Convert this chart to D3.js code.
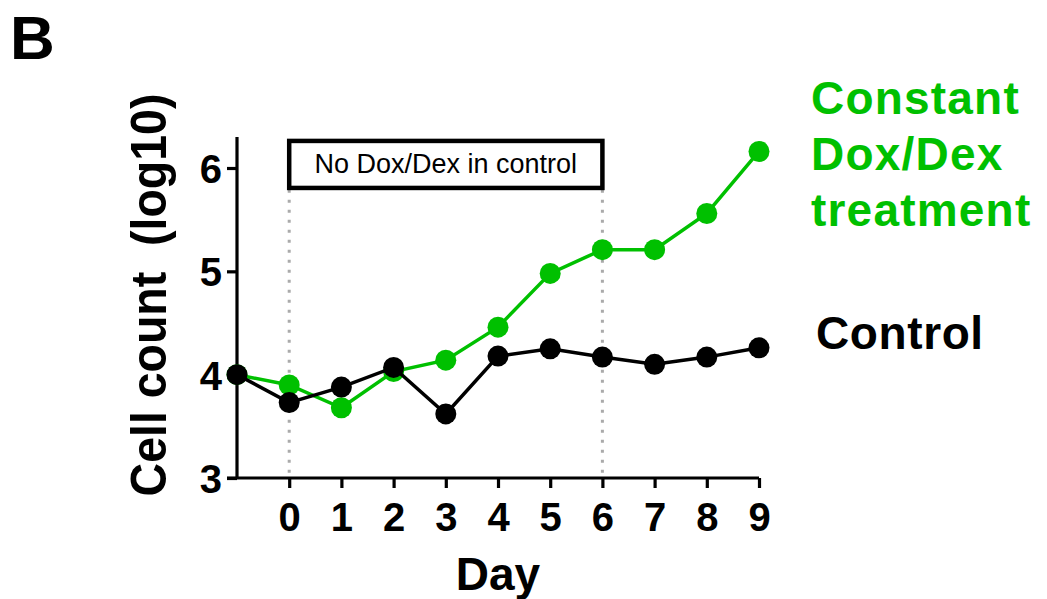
<!DOCTYPE html>
<html>
<head>
<meta charset="utf-8">
<script src="https://cdn.jsdelivr.net/npm/d3@7"></script>
<style>
  html, body { margin: 0; padding: 0; background: #fff; }
  svg { display: block; font-family: Arial, "Liberation Sans", Helvetica, sans-serif; }
</style>
</head>
<body>
<svg id="chart" width="1047" height="599"></svg>
<script>
// Days of measurement (-1 = baseline before day 0)
const days = [-1, 0, 1, 2, 3, 4, 5, 6, 7, 8, 9];
const xTicks = [0, 1, 2, 3, 4, 5, 6, 7, 8, 9];
const yTicks = [3, 4, 5, 6];

// log10 cell counts
const treatedValues = [4.00, 3.90, 3.68, 4.03, 4.14, 4.46, 4.98, 5.21, 5.21, 5.56, 6.16];
const controlValues = [4.00, 3.73, 3.88, 4.07, 3.62, 4.18, 4.25, 4.17, 4.10, 4.17, 4.26];

// Window without Dox/Dex in the control arm
const noDrugWindow = [0, 6];
const noDrugLabel = "No Dox/Dex in control";

const treatedName = ["Constant", "Dox/Dex", "treatment"];
const controlName = "Control";

const GREEN = "#00c000";
const BLACK = "#000000";

const svg = d3.select("#chart");

const x = d3.scaleLinear().domain([-1, 9]).range([237, 759]);
const y = d3.scaleLinear().domain([3, 6.3]).range([478, 137]);

// Panel letter
svg.append("text")
  .attr("x", 10).attr("y", 59)
  .attr("font-size", 62).attr("font-weight", "bold")
  .text("B");

// Dotted guide lines at the window edges
svg.selectAll("line.guide")
  .data(noDrugWindow)
  .join("line")
  .attr("class", "guide")
  .attr("x1", d => x(d)).attr("x2", d => x(d))
  .attr("y1", y(5.79)).attr("y2", y(3))
  .attr("stroke", "#aaaaaa")
  .attr("stroke-width", 3)
  .attr("stroke-dasharray", "3,7");

// Annotation box
const boxTop = y(6.262), boxBottom = y(5.807);
svg.append("rect")
  .attr("x", x(noDrugWindow[0])).attr("y", boxTop)
  .attr("width", x(noDrugWindow[1]) - x(noDrugWindow[0]))
  .attr("height", boxBottom - boxTop)
  .attr("fill", "#fff")
  .attr("stroke", "#000")
  .attr("stroke-width", 4.5);
svg.append("text")
  .attr("x", (x(noDrugWindow[0]) + x(noDrugWindow[1])) / 2)
  .attr("y", 173)
  .attr("text-anchor", "middle")
  .attr("font-size", 27)
  .text(noDrugLabel);

// Axes
const yAxis = d3.axisLeft(y).tickValues(yTicks).tickSize(10).tickPadding(6).tickFormat(d3.format("d"));
const xAxis = d3.axisBottom(x).tickValues(xTicks).tickSize(10).tickPadding(6).tickFormat(d3.format("d"));

const gy = svg.append("g").attr("transform", `translate(${x(-1)},0)`).call(yAxis);
const gx = svg.append("g").attr("transform", `translate(0,${y(3)})`).call(xAxis);

[gx, gy].forEach(g => {
  g.select(".domain").attr("stroke", "#000").attr("stroke-width", 3.2);
  g.selectAll(".tick line").attr("stroke", "#000").attr("stroke-width", 3.2);
  g.selectAll(".tick text")
    .attr("fill", "#000")
    .attr("font-size", 40)
    .attr("font-weight", "bold")
    .attr("font-family", "Arial, 'Liberation Sans', Helvetica, sans-serif");
});
// Domain path without outer tick stubs
gy.select(".domain").attr("d", `M0,${y(3)}V${y(6.3)}`);
gx.select(".domain").attr("d", `M${x(-1) - 10},0H${x(9)}`);
gy.selectAll(".tick text").attr("dy", "0.36em").attr("x", -15);
gx.selectAll(".tick text").attr("dy", "0").attr("y", 53);

// Axis titles
svg.append("text")
  .attr("x", (x(-1) + x(9)) / 2).attr("y", 590)
  .attr("text-anchor", "middle")
  .attr("font-size", 46).attr("font-weight", "bold")
  .text("Day");

svg.append("text")
  .attr("transform", "translate(166,295) rotate(-90) scale(1,1.08)")
  .attr("text-anchor", "middle")
  .attr("font-size", 46.5).attr("font-weight", "bold")
  .style("white-space", "pre")
  .text("Cell count  (log10)");

// Series
const series = [
  { name: "treated", values: treatedValues, color: GREEN },
  { name: "control", values: controlValues, color: BLACK }
];

const line = d3.line()
  .x((d, i) => x(days[i]))
  .y(d => y(d));

series.forEach(s => {
  const g = svg.append("g").attr("class", "series-" + s.name);
  g.append("path")
    .datum(s.values)
    .attr("fill", "none")
    .attr("stroke", s.color)
    .attr("stroke-width", 3.5)
    .attr("d", line);
  g.selectAll("circle")
    .data(s.values)
    .join("circle")
    .attr("cx", (d, i) => x(days[i]))
    .attr("cy", d => y(d))
    .attr("r", 10.5)
    .attr("fill", s.color);
});

// Series labels
svg.append("text")
  .attr("x", 811).attr("y", 114)
  .attr("font-size", 46).attr("font-weight", "bold")
  .attr("letter-spacing", 1.2)
  .attr("fill", GREEN)
  .selectAll("tspan")
  .data(treatedName)
  .join("tspan")
  .attr("x", 811)
  .attr("dy", (d, i) => i === 0 ? 0 : 56)
  .text(d => d);

svg.append("text")
  .attr("x", 816).attr("y", 349)
  .attr("font-size", 46).attr("font-weight", "bold")
  .attr("letter-spacing", 0.6)
  .attr("fill", BLACK)
  .text(controlName);
</script>
</body>
</html>
